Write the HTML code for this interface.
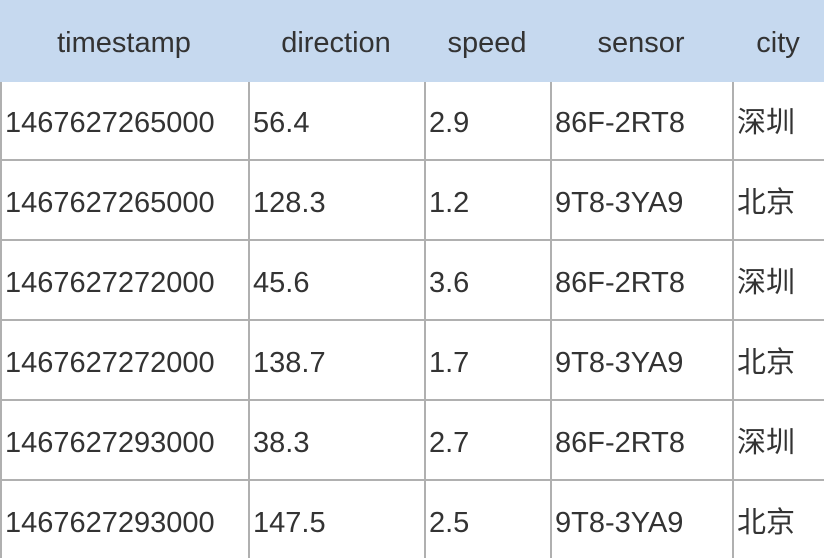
<!DOCTYPE html>
<html><head><meta charset="utf-8"><style>
body{margin:0;width:824px;height:558px;overflow:hidden;background:#fff;font-family:"Liberation Sans","Noto Sans CJK SC",sans-serif;color:#333;position:relative}
.hdr{position:absolute;left:0;top:0;width:824px;height:82px;background:#c6d9ef}
.t{position:absolute;font-size:29px;line-height:29px;white-space:nowrap}
.h{text-align:center}
.vl{position:absolute;width:2px;background:#b0b0b0;top:82px;height:476px}
.hl{position:absolute;height:2px;background:#b0b0b0;left:0;width:824px}
</style></head><body>
<div class="hdr"></div>
<div id="tbl"></div>
<script>
const headers=["timestamp","direction","speed","sensor","city"];
const rows=[
["1467627265000","56.4","2.9","86F-2RT8","深圳"],
["1467627265000","128.3","1.2","9T8-3YA9","北京"],
["1467627272000","45.6","3.6","86F-2RT8","深圳"],
["1467627272000","138.7","1.7","9T8-3YA9","北京"],
["1467627293000","38.3","2.7","86F-2RT8","深圳"],
["1467627293000","147.5","2.5","9T8-3YA9","北京"]];
const colEdges=[0,248,424,550,732,824];
const b=document.body;
headers.forEach((h,i)=>{const d=document.createElement('div');d.className='t h';
d.style.left=colEdges[i]+'px';d.style.width=(colEdges[i+1]-colEdges[i])+'px';d.style.top='29px';d.textContent=h;


b.appendChild(d);});
[0,248,424,550,732].forEach((x,i)=>{const l=document.createElement('div');l.className='vl';l.style.left=x+'px';


b.appendChild(l);});
rows.forEach((r,ri)=>{const y=82+ri*80;
if(ri>0){const l=document.createElement('div');l.className='hl';l.style.top=(y-3)+'px';


b.appendChild(l);}
r.forEach((v,ci)=>{const d=document.createElement('div');d.className='t';
d.style.left=(colEdges[ci]+5)+'px';d.style.top=(y+27)+'px';d.textContent=v;


b.appendChild(d);});});
</script>
</body></html>
